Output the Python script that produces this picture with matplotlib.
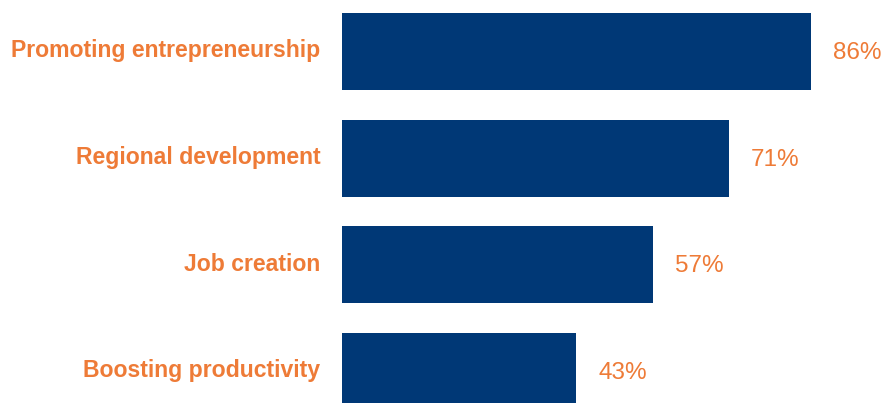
import matplotlib.pyplot as plt

categories = ['Promoting entrepreneurship', 'Regional development', 'Job creation', 'Boosting productivity']
values = [86, 71, 57, 43]

NAVY = '#003876'
ORANGE = '#EE7B37'

fig = plt.figure(figsize=(8.83, 4.03), dpi=100)
ax = fig.add_axes([0, 0, 1, 1])

pos = list(range(len(categories)))
ax.barh(pos, values, height=0.72, color=NAVY)

for y, name, v in zip(pos, categories, values):
    # category names sit a touch above the bar centre
    ax.text(-4.0, y - 0.03, name, ha='right', va='center_baseline', color=ORANGE,
            fontsize=16.6, fontweight='bold', family='Liberation Sans')
    ax.text(v + 4.0, y - 0.01, f'{v}%', ha='left', va='center_baseline', color=ORANGE,
            fontsize=17.5, family='Liberation Sans')

ax.set_xlim(-62.7, 99.2)
ax.set_ylim(3.295, -0.483)
ax.axis('off')

fig.savefig('out.png', dpi=100)
